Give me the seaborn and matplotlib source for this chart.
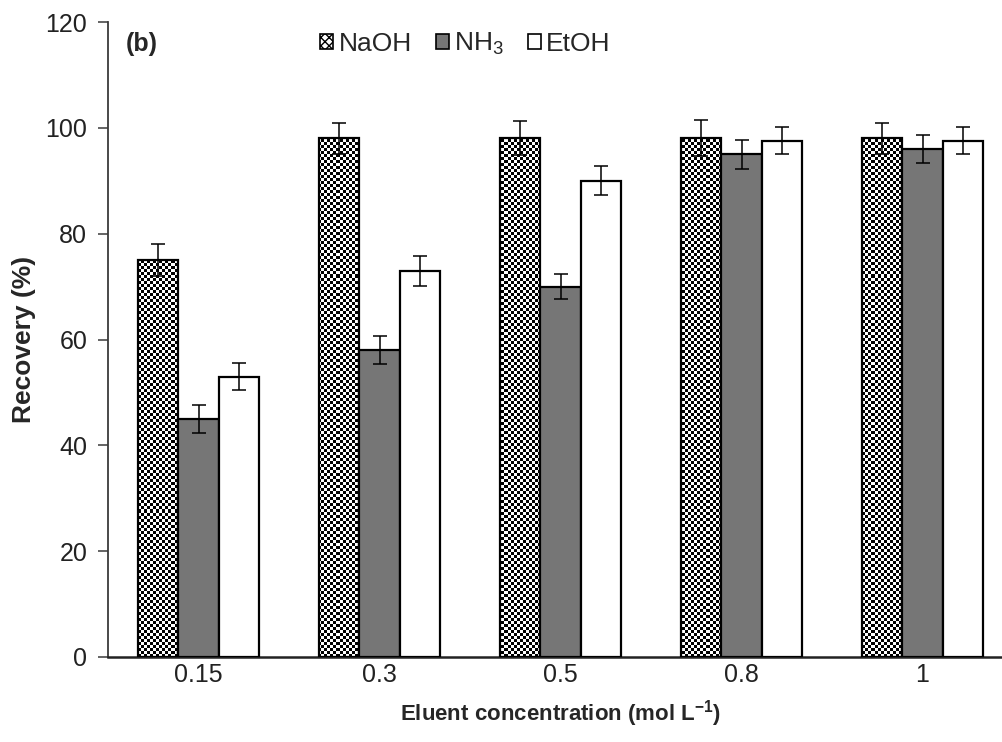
import numpy as np
import pandas as pd
import matplotlib
matplotlib.use("Agg")
import matplotlib.pyplot as plt
from matplotlib.patches import Patch
import seaborn as sns

# Recovery data per eluent and concentration
concentrations = ["0.15", "0.3", "0.5", "0.8", "1"]
eluents = ["NaOH", "NH$_3$", "EtOH"]
naoh = [75.0, 98.0, 98.0, 98.0, 98.0]
nh3 = [45.0, 58.0, 70.0, 95.0, 96.0]
etoh = [53.0, 73.0, 90.0, 97.6, 97.6]
naoh_err = [3.0, 3.0, 3.2, 3.4, 3.0]
nh3_err = [2.6, 2.6, 2.3, 2.7, 2.7]
etoh_err = [2.5, 2.8, 2.7, 2.6, 2.6]

values = [naoh, nh3, etoh]
errors = [naoh_err, nh3_err, etoh_err]

df = pd.DataFrame({
    "conc": concentrations * 3,
    "eluent": [e for e in eluents for _ in concentrations],
    "recovery": naoh + nh3 + etoh,
})

sns.set_style("white")
plt.rcParams["font.family"] = ["Liberation Sans", "DejaVu Sans"]
plt.rcParams["mathtext.default"] = "regular"

fig = plt.figure(figsize=(10.02, 7.42), dpi=100)
ax = fig.add_axes([108 / 1002, 1 - 657 / 742, 905 / 1002, 635 / 742])

fills = ["white", "#767676", "white"]
sns.barplot(data=df, x="conc", y="recovery", hue="eluent", order=concentrations,
            hue_order=eluents, palette=fills, width=0.663, gap=0,
            errorbar=None, edgecolor="black", linewidth=1.6, ax=ax,
            legend=False, saturation=1)

ax.set_xlim(-0.5, 4.5)
ax.set_ylim(0, 120)

# Checkerboard texture for the NaOH bars
ncols, nrows = 905 // 3, 635 // 3
yy, xx = np.mgrid[0:nrows, 0:ncols]
checker = ((xx + yy) % 2).astype(float)

bar_containers = list(ax.containers)
for k, cont in enumerate(bar_containers):
    for i, bar in enumerate(cont.patches):
        cx = bar.get_x() + bar.get_width() / 2
        ax.errorbar(cx, values[k][i], yerr=errors[k][i], fmt="none",
                    ecolor="black", elinewidth=1.1, capsize=5, capthick=1.1,
                    zorder=4)
        bar.set_zorder(3)
        if k == 0:
            bar.set_facecolor("none")
            im = ax.imshow(checker, cmap="gray", interpolation="nearest",
                           extent=(-0.5, 4.5, 0, 120), aspect="auto",
                           origin="lower", zorder=2)
            im.set_clip_path(bar)

ax.set_xlim(-0.5, 4.5)
ax.set_ylim(0, 120)
ax.set_yticks(np.arange(0, 121, 20))

for side in ["top", "right"]:
    ax.spines[side].set_visible(False)
ax.spines["left"].set_color("#3a3a3a")
ax.spines["left"].set_linewidth(1.3)
ax.spines["bottom"].set_color("#222222")
ax.spines["bottom"].set_linewidth(1.8)

ax.tick_params(axis="y", direction="out", length=7, width=1.1, color="#3a3a3a",
               labelsize=18, pad=8, left=True)
ax.tick_params(axis="x", length=0, labelsize=18, pad=4)
for lab in ax.get_xticklabels() + ax.get_yticklabels():
    lab.set_color("#222222")

ax.set_ylabel("Recovery (%)", fontsize=19, fontweight="bold", labelpad=7)
ax.set_xlabel("Eluent concentration (mol L$^{-1}$)", fontsize=16,
              fontweight="bold", labelpad=8)

ax.text(0.02, 0.965, "(b)", transform=ax.transAxes, fontsize=18,
        fontweight="bold", va="center", ha="left")

handles = [
    Patch(facecolor="white", edgecolor="black", hatch="xxxx", linewidth=1.2),
    Patch(facecolor=fills[1], edgecolor="black", linewidth=1.2),
    Patch(facecolor="white", edgecolor="black", linewidth=1.2),
]
ax.legend(handles, eluents, loc="center", bbox_to_anchor=(0.395, 0.965),
          ncol=3, frameon=False, fontsize=19, handlelength=0.5,
          handleheight=0.5, handletextpad=0.2, columnspacing=0.9)

fig.savefig("out.png", dpi=100, facecolor="white")
